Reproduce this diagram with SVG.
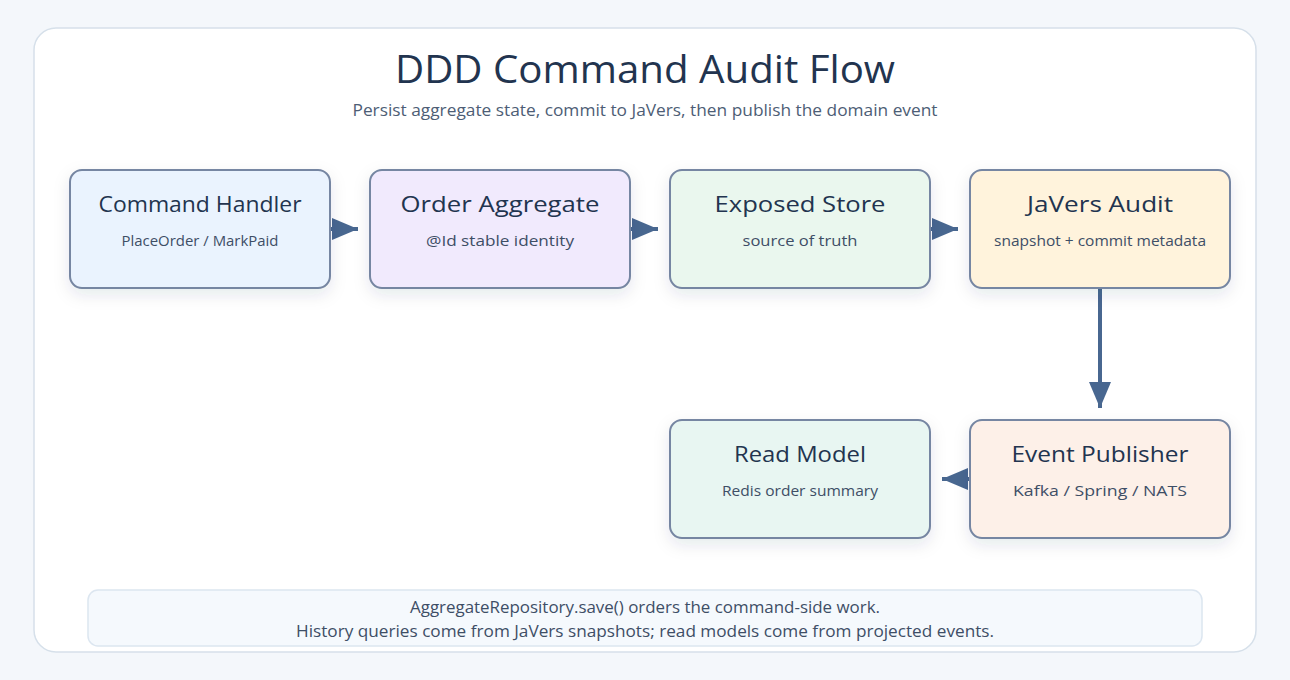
<svg xmlns="http://www.w3.org/2000/svg" width="1290" height="680" viewBox="0 0 1290 680">
<style>
.title{font-family:"Open Sans","Liberation Sans",sans-serif;font-size:38px;fill:#22344f;text-anchor:middle}
.sub{font-family:"Open Sans","Liberation Sans",sans-serif;font-size:16px;fill:#4d5d75;text-anchor:middle}
.box{stroke:#7686a2;stroke-width:2}
.nt{font-family:"Open Sans","Liberation Sans",sans-serif;font-size:22px;fill:#22344f;text-anchor:middle}
.ns{font-family:"Open Sans","Liberation Sans",sans-serif;font-size:14.5px;fill:#3e4e66;text-anchor:middle}
.foot{font-family:"Open Sans","Liberation Sans",sans-serif;font-size:16px;fill:#3e4e66;text-anchor:middle}
.edge{stroke:#486790;stroke-width:4;fill:none}
</style>
<defs>
<filter id="sh" x="-20%" y="-20%" width="140%" height="150%">
<feDropShadow dx="0" dy="6" stdDeviation="8" flood-color="#1e3250" flood-opacity="0.1"/>
</filter>
<marker id="arr" viewBox="0 0 26 22" refX="26" refY="11" markerWidth="26" markerHeight="22" orient="auto" markerUnits="userSpaceOnUse">
<path d="M0,0 L26,11 L0,22 Z" fill="#486790"/>
</marker>
</defs>
<rect width="1290" height="680" fill="#f4f7fb"/>
<rect x="34" y="28" width="1222" height="624" rx="22" fill="#ffffff" stroke="#d6e0ea" stroke-width="1.5"/>
<text class="title" x="645" y="83" textLength="500" lengthAdjust="spacingAndGlyphs">DDD Command Audit Flow</text>
<text class="sub" x="645" y="116" textLength="585" lengthAdjust="spacingAndGlyphs">Persist aggregate state, commit to JaVers, then publish the domain event</text>

<g id="connectors">
<line class="edge" x1="330" y1="229" x2="358" y2="229" marker-end="url(#arr)"/>
<line class="edge" x1="630" y1="229" x2="658" y2="229" marker-end="url(#arr)"/>
<line class="edge" x1="930" y1="229" x2="958" y2="229" marker-end="url(#arr)"/>
<line class="edge" x1="1100" y1="288" x2="1100" y2="408" marker-end="url(#arr)"/>
<line class="edge" x1="970" y1="479" x2="942" y2="479" marker-end="url(#arr)"/>
</g>

<g id="command-handler">
<rect class="box" x="70" y="170" width="260" height="118" rx="12" fill="#eaf3fe" filter="url(#sh)"/>
<text class="nt" x="200" y="212" textLength="203" lengthAdjust="spacingAndGlyphs">Command Handler</text>
<text class="ns" x="200" y="246" textLength="157" lengthAdjust="spacingAndGlyphs">PlaceOrder / MarkPaid</text>
</g>
<g id="order-aggregate">
<rect class="box" x="370" y="170" width="260" height="118" rx="12" fill="#f1eafd" filter="url(#sh)"/>
<text class="nt" x="500" y="212" textLength="199" lengthAdjust="spacingAndGlyphs">Order Aggregate</text>
<text class="ns" x="500" y="246" textLength="148" lengthAdjust="spacingAndGlyphs">@Id stable identity</text>
</g>
<g id="exposed-store">
<rect class="box" x="670" y="170" width="260" height="118" rx="12" fill="#eaf7ee" filter="url(#sh)"/>
<text class="nt" x="800" y="212" textLength="171" lengthAdjust="spacingAndGlyphs">Exposed Store</text>
<text class="ns" x="800" y="246" textLength="115" lengthAdjust="spacingAndGlyphs">source of truth</text>
</g>
<g id="javers-audit">
<rect class="box" x="970" y="170" width="260" height="118" rx="12" fill="#fff3dc" filter="url(#sh)"/>
<text class="nt" x="1100" y="212" textLength="146" lengthAdjust="spacingAndGlyphs">JaVers Audit</text>
<text class="ns" x="1100" y="246" textLength="212" lengthAdjust="spacingAndGlyphs">snapshot + commit metadata</text>
</g>
<g id="read-model">
<rect class="box" x="670" y="420" width="260" height="118" rx="12" fill="#e8f6f2" filter="url(#sh)"/>
<text class="nt" x="800" y="462" textLength="132" lengthAdjust="spacingAndGlyphs">Read Model</text>
<text class="ns" x="800" y="496" textLength="156" lengthAdjust="spacingAndGlyphs">Redis order summary</text>
</g>
<g id="event-publisher">
<rect class="box" x="970" y="420" width="260" height="118" rx="12" fill="#fdf0e8" filter="url(#sh)"/>
<text class="nt" x="1100" y="462" textLength="177" lengthAdjust="spacingAndGlyphs">Event Publisher</text>
<text class="ns" x="1100" y="496" textLength="174" lengthAdjust="spacingAndGlyphs">Kafka / Spring / NATS</text>
</g>

<g id="footer">
<rect x="88" y="590" width="1114" height="56" rx="10" fill="#f5f9fd" stroke="#dce6f0" stroke-width="1.5"/>
<text class="foot" x="645" y="613" textLength="470" lengthAdjust="spacingAndGlyphs">AggregateRepository.save() orders the command-side work.</text>
<text class="foot" x="645" y="637" textLength="698" lengthAdjust="spacingAndGlyphs">History queries come from JaVers snapshots; read models come from projected events.</text>
</g>
</svg>
